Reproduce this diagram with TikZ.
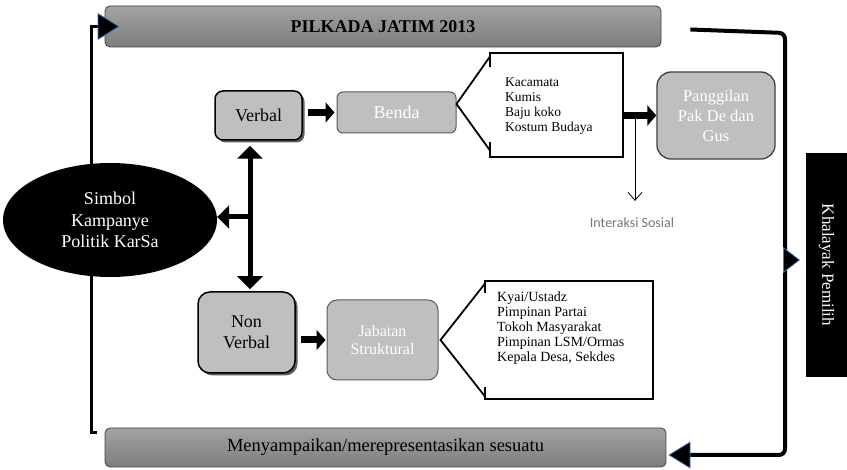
\documentclass[tikz,border=0pt]{standalone}
\usepackage{fontspec}
\setmainfont{Liberation Serif}
\newfontfamily\notesans{Carlito}
\usetikzlibrary{arrows.meta,shapes.geometric,shadows,calc}
\definecolor{boxgray}{RGB}{191,191,191}
\definecolor{edgegray}{RGB}{89,89,89}
\definecolor{bartop}{RGB}{163,163,163}
\definecolor{barbot}{RGB}{125,125,125}
\definecolor{tipblue}{RGB}{68,114,196}
\definecolor{notegray}{RGB}{118,118,118}

\begin{document}
\begin{tikzpicture}[x=1pt,y=-1pt,
  bar/.style={rectangle, rounded corners=5pt, draw=black!75, line width=0.8pt,
    top color=bartop, bottom color=barbot, inner sep=0pt},
  keybox/.style={rectangle, draw=black, line width=1.5pt, fill=boxgray,
    drop shadow={shadow xshift=2.5pt, shadow yshift=-2.5pt, fill=black!70, opacity=0.9},
    inner sep=0pt, align=center, font=\fontsize{18}{21}\selectfont},
  softbox/.style={rectangle, draw=edgegray, line width=1pt, fill=boxgray,
    text=white, inner sep=0pt, align=center},
  framebox/.style={rectangle, draw=none, inner sep=0pt},
  frameline/.style={draw=black, line width=1.8pt, line join=miter},
  listtext/.style={anchor=west, align=left, inner sep=0pt},
  fat/.style={line width=7pt, -{Triangle[length=9pt,width=20pt]}},
  bold/.style={line width=5pt, -{Triangle[length=12pt,width=23pt]}},
  twoway/.style={line width=5pt, {Triangle[length=13pt,width=25pt]}-{Triangle[length=13pt,width=25pt]}},
  loopline/.style={draw=black, line width=3pt},
  bluetip/.style={-{Triangle[length=22pt,width=27pt,fill=black,color=tipblue,line width=0.8pt]}}
]
\useasboundingbox (0,0) rectangle (847,470);

% title and closing bars
\node[bar, minimum width=556, minimum height=41, font=\fontsize{18}{21}\selectfont\bfseries]
  (top) at (383,26.5) {PILKADA JATIM 2013};
\node[bar, minimum width=561, minimum height=39, font=\fontsize{18.5}{21}\selectfont]
  (bot) at (385.5,447.5) {Menyampaikan/merepresentasikan sesuatu};

% feedback loop around the diagram (drawn before the ellipse, which covers it)
\draw[loopline, bluetip] ([shift={(-8pt,-5pt)}]bot.north west) -- ++(-5,0) |- ([xshift=15pt]top.west);
\draw[loopline, line width=4pt, rounded corners=6pt, bluetip]
  ([shift={(29pt,-3pt)}]top.east) -- (785,33) -- (785,455) -- ([shift={(2pt,-7.5pt)}]bot.east);

% central symbol
\node[ellipse, fill=black, text=white, minimum width=214, minimum height=114, inner sep=0pt,
  align=center, font=\fontsize{18}{21.5}\selectfont]
  (ell) at (110,220) {Simbol\\Kampanye\\Politik KarSa};

% verbal / non verbal branches
\node[keybox, rounded corners=8pt, minimum width=87, minimum height=49] (verbal) at (258.5,115.5) {Verbal};
\node[keybox, rounded corners=12pt, minimum width=97, minimum height=81] (nonverbal) at (246.5,332.5) {Non\\Verbal};

\node[softbox, rounded corners=6pt, minimum width=119, minimum height=41,
  font=\fontsize{18}{21}\selectfont] (benda) at (396.5,112.5) {Benda};
\node[softbox, rounded corners=10pt, minimum width=111, minimum height=80,
  font=\fontsize{16}{18}\selectfont] (jabatan) at (382.5,340) {Jabatan\\Struktural};
\node[softbox, draw=black!75, line width=1.3pt, rounded corners=14pt, minimum width=118, minimum height=87,
  font=\fontsize{16.5}{20}\selectfont] (pang) at (716,115.5) {Panggilan\\Pak De dan\\Gus};

% audience
\node[rectangle, fill=black, text=white, rotate=-90, minimum width=224, minimum height=41, inner sep=0pt,
  font=\fontsize{17}{20}\selectfont] (khal) at (826.5,265) {Khalayak Pemilih};

% item lists with their callout frames
\node[framebox, minimum width=133, minimum height=104] (f1) at (556.5,105) {};
\node[listtext, font=\fontsize{13.5}{15.3}\selectfont] (list1) at (505,106)
  {Kacamata\\Kumis\\Baju koko\\Kostum Budaya};
\node[framebox, minimum width=168, minimum height=118] (f2) at (569,340) {};
\node[listtext, font=\fontsize{14}{15}\selectfont] (list2) at (497,328)
  {Kyai/Ustadz\\Pimpinan Partai\\Tokoh Masyarakat\\Pimpinan LSM/Ormas\\Kepala Desa, Sekdes};

\node[font=\notesans\fontsize{14}{16}\selectfont, text=notegray, inner sep=0pt] (isos) at (632,223) {Interaksi Sosial};

% callout frames
\draw[frameline] ([yshift=-14pt]f1.north west) -- (f1.north west) -- (f1.north east)
  -- (f1.south east) -- (f1.south west) -- ([yshift=15pt]f1.south west);
\draw[frameline] ([yshift=-4pt]f1.north west) -- ([yshift=8.5pt]benda.east) -- ([yshift=7pt]f1.south west);
\draw[frameline] ([yshift=-12pt]f2.north west) -- (f2.north west) -- (f2.north east)
  -- (f2.south east) -- (f2.south west) -- ([yshift=12pt]f2.south west);
\draw[frameline] ([yshift=-3pt]f2.north west) -- ([xshift=2pt]jabatan.east) -- ([yshift=3pt]f2.south west);

% connectors between the boxes
\draw[twoway, shorten <=5pt, shorten >=2pt] ([xshift=-8.5pt]verbal.south) -- ([xshift=3.5pt]nonverbal.north);
\coordinate (junc) at (250,217);
\draw[bold] (junc) -- (junc -| ell.east);
\draw[fat, shorten <=5pt, shorten >=2pt] (verbal.east |- benda.west) -- (benda.west);
\draw[fat, shorten <=5pt, shorten >=1pt] (nonverbal.east |- jabatan.west) -- (jabatan.west);
\draw[fat] (f1.east |- pang.west) -- (pang.west);
\coordinate (split) at (635,116);
\draw[line width=0.8pt, -{Straight Barb[length=8pt,width=14pt]}, shorten >=17pt] (split) -- (split |- isos.north);

% pointer towards the audience
\coordinate (rail) at (783,260);
\coordinate (railtip) at (800,260);
\draw[-{Triangle[length=17pt,width=26pt,fill=black,color=tipblue,line width=0.8pt]}] (rail) -- (railtip);
\end{tikzpicture}
\end{document}
